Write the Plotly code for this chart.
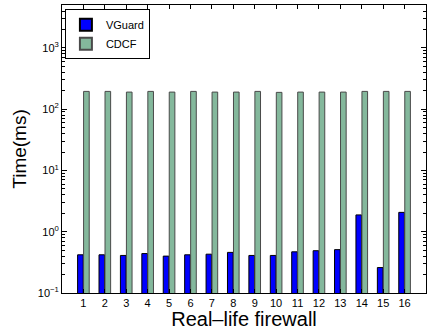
import plotly.graph_objects as go

# Per-firewall processing time (ms), one entry per real-life rule set
firewalls = [str(i) for i in range(1, 17)]
vguard_ms = [0.42, 0.42, 0.41, 0.44, 0.40, 0.42, 0.43, 0.46, 0.41, 0.41,
             0.47, 0.49, 0.51, 1.88, 0.26, 2.07]
cdcf_ms = [195, 195, 190, 195, 190, 195, 190, 190, 195, 188,
           190, 190, 190, 195, 195, 195]

ytick_vals = [0.1, 1, 10, 100, 1000]
ytick_text = ["10<sup>−1</sup>", "10<sup>0</sup>", "10<sup>1</sup>",
              "10<sup>2</sup>", "10<sup>3</sup>"]

xpos = list(range(1, 17))

fig = go.Figure()
fig.add_trace(go.Bar(
    name="VGuard", x=xpos, y=vguard_ms,
    marker=dict(color="#0000ff", line=dict(color="#000000", width=1)),
))
fig.add_trace(go.Bar(
    name="CDCF", x=xpos, y=cdcf_ms,
    marker=dict(color="#84b89c", line=dict(color="#4a4a4a", width=1)),
))

font_family = "Liberation Sans, Arial, sans-serif"

fig.update_layout(
    width=435, height=330,
    margin=dict(l=62, r=9, t=5, b=37),
    paper_bgcolor="white", plot_bgcolor="white",
    barmode="group", bargap=0.44, bargroupgap=0.06,
    font=dict(family=font_family, color="#000000", size=11),
    showlegend=True,
    legend=dict(
        x=0.008, y=0.985, xanchor="left", yanchor="top",
        bgcolor="white", bordercolor="#000000", borderwidth=1,
        font=dict(size=11, family=font_family),
        tracegroupgap=0, itemsizing="constant", itemwidth=30,
    ),
)

fig.update_xaxes(
    range=[0, 17], tickvals=xpos, ticktext=firewalls,
    ticks="inside", ticklen=4, tickcolor="#000000",
    showline=True, linecolor="#000000", linewidth=1, mirror="ticks",
    showgrid=False, zeroline=False,
    tickfont=dict(size=11),
    title=dict(text="Real–life firewall", font=dict(size=20), standoff=0),
)
fig.update_yaxes(
    type="log", range=[-1, 3.7],
    tickvals=ytick_vals, ticktext=ytick_text,
    ticks="inside", ticklen=5, tickcolor="#000000",
    showline=True, linecolor="#000000", linewidth=1, mirror="ticks",
    showgrid=False, zeroline=False,
    minor=dict(ticks="inside", ticklen=3, tickcolor="#000000",
               dtick="D1", showgrid=False),
    tickfont=dict(size=11),
    title=dict(text="Time(ms)", font=dict(size=19), standoff=6),
)

fig.write_html("out.html")
